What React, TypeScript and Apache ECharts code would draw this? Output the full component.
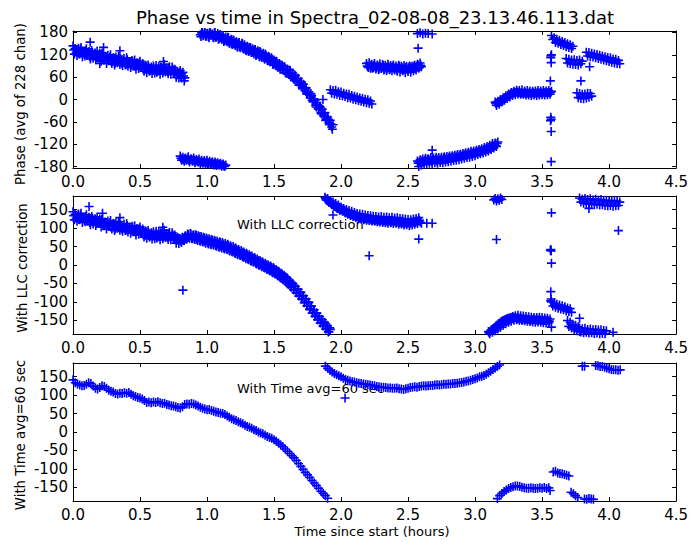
import React, { useEffect, useRef } from "react";
import * as echarts from "echarts";

const TITLE = "Phase vs time in Spectra_02-08-08_23.13.46.113.dat";
const Y_NAMES = ["Phase (avg of 228 chan)", "With LLC correction", "With Time avg=60 sec"];
const X_NAME = "Time since start (hours)";
const NOTE_LLC = "With LLC correction";
const NOTE_AVG = "With Time avg=60 sec";

const xTicks = [0, 0.5, 1, 1.5, 2, 2.5, 3, 3.5, 4, 4.5];
const yTicksP1 = [-180, -120, -60, 0, 60, 120, 180];
const yTicksP23 = [-150, -100, -50, 0, 50, 100, 150];

const STEP = 0.01; // hours between raw samples
const AVG_STEP = 1 / 60; // hours between 60-sec averages

// ---------------- Panel 1 : raw phase ----------------
const p1AStart = 0.0;
const p1A = [144,122,135,118,138,122,140,115,128,117,136,119,129,109,131,111,122,107,130,112,
  124,103,125,106,116,97,119,105,120,97,112,93,114,99,117,94,104,91,111,93,
  112,89,102,86,105,90,106,81,98,83,103,86,97,76,92,72,93,76,84,70,
  90,71,91,75,89,68,86,71,94,74,85,69,88,68,87,71,81,59,75,58,
  78,58,73,50];
const p1A2Start = 0.005;
const p1A2 = [133,137,127,132,123,135,126,129,121,131,
  122,127,115,123,126,117,125,113,118,120,
  112,122,112,107,115,111,104,114,105,109,
  111,98,105,108,102,109,97,105,100,94,
  107,96,100,94,102,96,89,98,91,98,
  86,91,91,80,90,83,87,78,87,78,
  79,84,73,83,77,87,79,76,85,83,
  75,85,76,78,81,70,76,66,70,72,
  64,71,63,58];
const p1BStart = 0.8;
const p1B = [-152,-163,-155,-166,-157,-162,-154,-168,-159,-165,-157,-170,-161,-167,-160,-172,-163,-171,-164,-173,
  -163,-174,-166,-172,-167,-176,-168,-177,-170,-176,-171,-179,-173,-180,-176];
const p1B2Start = 0.805;
const p1B2 = [-158,-160,-161,-159,-163,-160,-164,-162,-161,-165,-163,-166,-164,-168,-166,-167,-169,-167,-170,-168,
  -171,-169,-172,-170,-173,-171,-174,-172,-175,-174,-176,-175,-177,-178];
const p1CStart = 0.95;
const p1C = [174,179,171,178,170,177,169,179,172,176,
  166,180,168,177,164,174,161,172,158,168,
  155,166,151,162,148,159,145,155,142,153,
  139,151,137,147,132,143,129,140,126,136,
  122,134,120,131,115,127,113,124,108,119,
  105,116,101,112,95,106,92,102,86,97,
  82,92,78,88,71,82,67,78,61,71,
  54,64,48,57,40,48,33,41,24,31,
  14,21,4,11,-6,1,-16,-8,-25,-18,
  -36,-26,-44,-35,-53,-47,-63,-56,-74,-68];
const p1C2Start = 0.955;
const p1C2 = [169,180,173,180,170,178,166,179,174,167,
  179,167,172,162,174,166,171,156,165,158,
  167,152,157,149,160,149,154,141,153,141,
  146,150,135,139,131,141,131,140,126,131,
  134,118,128,121,129,114,122,112,122,111,
  104,113,103,109,95,101,103,89,92,81,
  92,82,88,72,79,70,79,61,65,58,
  65,50,55,39,46,46,29,31,32,15,
  21,11,16,-2,-3,-2,-20,-14,-26,-21,
  -39,-36,-38,-56,-53,-53,-68,-66,-80];
const p1DStart = 1.92;
const p1D = [26,17,24,15,25,14,21,11,20,10,17,8,15,5,14,4,11,1,9,-1,7,-3,4,-5,3,-7,1,-9,-1,-10,-4,-12];
const p1EStart = 2.19;
const p1E = [97,88,99,84,95,86,97,82,93,80,96,83,94,79,92,78,95,80,91,77,
  93,79,90,76,92,74,89,77,91,72,88,75,90,73,89,77,92,79,95,84,98,88];
const p1E2Start = 2.195;
const p1E2 = [90,86,93,88,84,91,87,85,90,83,88,85,91,82,87,84,89,81,86,88,
  83,87,80,85,89,82,86,79,84,87,81,85,88,82,86,90,84,89,93,87,92];
const p1GStart = 2.57;
const p1G = [-165,-180,-162,-176,-160,-174,-158,-173,-159,-171,-156,-172,-157,-170,-155,-171,-156,-169,-155,-170,
  -154,-168,-153,-167,-152,-166,-151,-164,-150,-163,-148,-162,-147,-160,-145,-158,-143,-156,-142,-155,
  -139,-153,-138,-151,-136,-148,-134,-146,-132,-144,-129,-141,-126,-138,-123,-134,-118,-130,-117,-126,-114];
const p1G2Start = 2.575;
const p1G2 = [-171,-167,-170,-164,-168,-163,-166,-161,-165,-162,-166,-160,-164,-161,-165,-159,-163,-160,-164,-158,
  -162,-157,-161,-156,-159,-155,-158,-153,-157,-152,-155,-151,-154,-149,-152,-147,-151,-146,-149,-144,
  -148,-143,-146,-141,-143,-138,-142,-136,-140,-134,-137,-132,-135,-129,-132,-125,-128,-122,-124,-118];
const p1HStart = 3.15;
const p1H = [-7,-16,-5,-13,0,-7,5,-2,10,3,15,7,19,11,22,13,25,15,24,14,
  26,14,23,12,24,12,23,11,22,12,23,11,24,12,23,13,24,12,23,13,24,14,22];
const p1H2Start = 3.155;
const p1H2 = [-11,-9,-8,-5,-4,0,1,5,6,10,12,15,16,18,19,19,20,18,19,17,
  18,17,18,16,17,18,17,17,18,16,17,18,17,18,18,17,18,19,18,19,18,19];
const p1IStart = 3.57;
const p1I = [172,161,166,153,162,151,159,148,156,145,153,142,150,140,147,137,143];
const p1JStart = 3.68;
const p1J = [110,98,108,96,106,95,107,94,105,93,106,96,103];
const p1KStart = 3.76;
const p1K = [18,5,16,3,14,2,15,4,17,6,16,9];
const p1LStart = 3.83;
const p1L = [127,117,126,115,124,114,122,112,121,110,119,108,117,106,115,104,113,102,112,100,109,98,108,97,105,96];
const p1Extra: [number, number][] = [
  [0.128, 154], [0.228, 140], [0.35, 131], [0.675, 102], [0.2, 97], [1.865, 0],
  [2.57, 177], [2.59, 179], [2.61, 176], [2.63, 178], [2.65, 177], [2.68, 176], [2.575, 138], [2.68, -136],
  [3.565, 117], [3.565, 112], [3.57, 120], [3.568, 99], [3.562, 50], [3.565, -48], [3.568, -53],
  [3.563, -57], [3.568, -86], [3.568, -167], [3.79, 50], [3.855, 88],
];

// ---------------- Panel 2 : with LLC correction ----------------
const p2AStart = 0.0;
const p2A = [144,122,135,118,138,122,140,115,128,117,
  136,119,129,109,131,111,122,107,130,112,
  124,103,125,106,116,97,119,105,120,97,
  112,93,114,99,117,94,104,91,111,93,
  112,89,102,86,105,90,106,81,98,83,
  103,86,97,76,92,72,93,76,84,70,
  90,71,91,75,89,68,86,71,94,74,
  85,69,88,68,87,71,81,59,75,58,
  70,61,73,66,79,70,83,72,84,71,
  82,69,80,66,77,64,75,62,72,59,
  70,57,68,55,66,54,64,51,61,48,
  60,46,57,43,54,42,52,38,48,35,
  46,31,41,28,38,26,35,21,31,17,
  28,14,24,10,19,8,16,3,12,-1,
  9,-5,4,-8,1,-12,-3,-16,-7,-21,
  -10,-24,-15,-30,-20,-35,-25,-40,-31,-46,
  -37,-53,-44,-60,-51,-67,-58,-75,-66,-83,
  -74,-92,-83,-100,-92,-110,-101,-119,-111,-129,
  -121,-138,-130,-147,-139,-156,-148,-164,-157,-172,
  -165,-180,-174];
const p2A2Start = 0.005;
const p2A2 = [133,137,127,132,123,135,126,129,121,131,
  122,127,115,123,126,117,125,113,118,120,
  112,122,112,107,115,111,104,114,105,109,
  111,98,105,108,102,109,97,105,100,94,
  107,96,100,94,102,96,89,98,91,98,
  86,91,91,80,90,83,87,78,87,78,
  79,84,73,83,77,87,79,76,85,83,
  75,85,76,78,81,70,76,66,70,72,
  64,75,66,78,70,83,74,85,72,80,
  71,82,69,79,66,77,64,75,62,73,
  60,71,57,69,56,67,53,65,51,63,
  49,61,46,58,44,56,40,52,37,50,
  34,46,30,42,27,39,23,35,20,32,
  16,28,12,24,8,20,4,16,0,12,
  -3,9,-7,5,-11,1,-15,-3,-19,-7,
  -23,-12,-28,-17,-34,-22,-39,-28,-45,-34,
  -52,-42,-59,-49,-67,-57,-75,-65,-84,-74,
  -92,-83,-102,-92,-111,-101,-120,-111,-130,-121,
  -139,-130,-148,-139,-157,-147,-165,-155,-173,-163,
  -181,-170];
const p2BStart = 1.88;
const p2B = [183,176,180,169,174,163,170,158,166,154,162,148,157,146,153,141,150,137,147,134,
  145,131,142,129,139,126,138,124,137,122,135,121,134,120,133,119,132,118,131,117,
  130,116,131,115,129,114,130,113,128,114,129,112,127,113,128,110,126,111,125,108,
  124,109,123,106,122,108,124,110,126,112,128,116];
const p2B2Start = 1.885;
const p2B2 = [179,175,173,170,166,164,160,159,155,153,152,149,149,145,145,141,141,139,138,136,
  135,133,132,130,131,128,129,126,128,125,126,124,125,122,124,121,123,120,122,119,
  121,120,121,118,120,117,120,118,119,116,119,117,118,115,117,114,116,113,116,112,
  115,113,114,112,116,114,117,115,119,118,121];
const p2CStart = 3.14;
const p2C = [176,180,173,179,175,181,177];
const p2DStart = 3.1;
const p2D = [-180,-186,-176,-182,-171,-178,-166,-173,-161,-168,-155,-163,-151,-159,-146,-155,-143,-152,-139,-149,
  -137,-148,-136,-149,-137,-150,-138,-151,-139,-152,-140,-153,-141,-154,-142,-155,-142,-154,-141,-155,
  -142,-156,-143,-157,-144,-156,-146];
const p2D2Start = 3.105;
const p2D2 = [-183,-179,-176,-172,-169,-165,-162,-158,-157,-153,-151,-149,-147,-146,-144,-144,-142,-143,-141,-144,
  -142,-145,-143,-146,-144,-147,-145,-147,-146,-148,-147,-149,-147,-148,-147,-149,-148,-149,-148,-150,
  -149,-150,-149,-151,-150,-152];
const p2EStart = 3.57;
const p2E = [-100,-111,-103,-114,-106,-117,-108,-119,-110,-121,-113,-124,-116,-126,-118,-128];
const p2FStart = 3.69;
const p2F = [-150,-166,-155,-170,-160,-174,-163,-178,-167,-180];
const p2GStart = 3.78;
const p2G = [-170,-181,-172,-183,-171,-182,-174,-184,-173,-183,-175,-185,-174,-184,-176,-186,-175,-185,-177,-186,-178];
const p2HStart = 3.78;
const p2H = [181,170,178,167,180,166,177,164,179,165,176,163,178,164,175,162,177,163,174,161,
  175,160,173,161,172,159,174,160,172,161,170];
const p2Extra: [number, number][] = [
  [0.12, 158], [0.22, 140], [0.35, 128], [0.67, 102], [0.82, -68], [1.94, 135], [2.21, 25],
  [2.58, 70], [2.6, 113], [2.64, 113], [2.68, 113], [3.16, 69],
  [3.57, 141], [3.565, 42], [3.568, 38], [3.562, 40], [3.57, 5], [3.565, -72], [3.568, -92],
  [3.565, -97], [3.57, -168], [3.78, -144], [4.03, -182], [3.85, 153], [4.07, 93],
];

// ---------------- Panel 3 : 60-second averages ----------------
const p3AStartMin = 0;
const p3A = [141,133,130,127,125,126,129,133,131,124,118,116,120,125,123,118,113,110,108,104,
  103,105,104,106,105,107,102,98,96,93,92,89,85,80,81,79,81,80,82,79,
  77,78,74,73,71,70,68,66,65,68,74,76,75,77,76,73,70,67,64,62,
  60,61,58,56,54,53,51,50,47,43,40,36,33,31,28,25,22,18,15,13,
  10,6,4,0,-3,-5,-9,-12,-15,-17,-21,-25,-30,-35,-40,-46,-52,-58,-64,-70,
  -77,-85,-93,-101,-109,-116,-123,-131,-138,-145,-152,-160,-166,-172,-179];
const p3BStartMin = 113;
const p3B = [178,172,167,162,158,155,152,149,145,142,140,138,136,135,133,132,131,130,129,128,
  127,126,125,123,122,121,121,120,119,119,118,118,119,117,116,115,117,118,120,121,
  122,121,123,124,125,124,125,126,126,127,128,127,128,129,129,130,130,131,131,132,
  133,134,135,137,138,140,142,144,146,149,151,153,156,160,164,169,173,177,181];
const p3DStartMin = 190;
const p3D = [-180,-172,-166,-161,-157,-153,-150,-148,-146,-146,-147,-149,-151,-152,-152,-151,-152,-153,-152,-151,
  -152,-150,-153,-151];
const p3EStartMin = 215;
const p3E = [-108,-106,-111,-112,-113,-115,-117,-119];
const p3FStartMin = 223;
const p3F = [-163,-167,-172,-177];
const p3GStartMin = 229;
const p3G = [-181,-182,-180,-181,-182];
const p3Extra: [number, number][] = [
  [2.03, 92], [3.56, -158],
  [3.8, 178], [3.817, 178], [3.9, 180], [3.917, 179], [3.933, 177], [3.95, 177], [3.967, 175],
  [3.983, 173], [4.0, 171], [4.017, 169], [4.033, 168], [4.05, 168], [4.067, 167], [4.083, 168],
];

function seg(start: number, step: number, vals: number[]): [number, number][] {
  return vals.map((v, i) => [start + i * step, v]);
}
function segMin(startMin: number, vals: number[]): [number, number][] {
  return vals.map((v, i) => [(startMin + i) * AVG_STEP, v]);
}

const panel1 = [
  ...seg(p1AStart, STEP, p1A), ...seg(p1A2Start, STEP, p1A2),
  ...seg(p1BStart, STEP, p1B), ...seg(p1B2Start, STEP, p1B2),
  ...seg(p1CStart, STEP, p1C), ...seg(p1C2Start, STEP, p1C2),
  ...seg(p1DStart, STEP, p1D),
  ...seg(p1EStart, STEP, p1E), ...seg(p1E2Start, STEP, p1E2),
  ...seg(p1GStart, STEP, p1G), ...seg(p1G2Start, STEP, p1G2),
  ...seg(p1HStart, STEP, p1H), ...seg(p1H2Start, STEP, p1H2),
  ...seg(p1IStart, STEP, p1I), ...seg(p1JStart, STEP, p1J),
  ...seg(p1KStart, STEP, p1K), ...seg(p1LStart, STEP, p1L), ...p1Extra,
];
const panel2 = [
  ...seg(p2AStart, STEP, p2A), ...seg(p2A2Start, STEP, p2A2),
  ...seg(p2BStart, STEP, p2B), ...seg(p2B2Start, STEP, p2B2),
  ...seg(p2CStart, STEP, p2C),
  ...seg(p2DStart, STEP, p2D), ...seg(p2D2Start, STEP, p2D2),
  ...seg(p2EStart, STEP, p2E), ...seg(p2FStart, STEP, p2F),
  ...seg(p2GStart, STEP, p2G), ...seg(p2HStart, STEP, p2H), ...p2Extra,
];
const panel3 = [
  ...segMin(p3AStartMin, p3A), ...segMin(p3BStartMin, p3B), ...segMin(p3DStartMin, p3D),
  ...segMin(p3EStartMin, p3E), ...segMin(p3FStartMin, p3F), ...segMin(p3GStartMin, p3G), ...p3Extra,
];

const FONT = "DejaVu Sans";
const PLUS = "path://M3.7,0h1.6v3.7h3.7v1.6h-3.7v3.7h-1.6v-3.7h-3.7v-1.6h3.7z";
const BLUE = "#0000ff";

const grids = [
  { left: 73, top: 31, width: 605, height: 137 },
  { left: 73, top: 196, width: 605, height: 138 },
  { left: 73, top: 363, width: 605, height: 138 },
];
const yLimits = [184, 186.5, 186.5];

export default function App() {
  const ref = useRef<HTMLDivElement>(null);
  useEffect(() => {
    if (!ref.current) return;
    const chart = echarts.init(ref.current, undefined, { renderer: "svg" });
    const line = { show: true, onZero: false, lineStyle: { color: "#000", width: 1 } };
    const xAxis: any[] = [];
    const yAxis: any[] = [];
    grids.forEach((_, gi) => {
      const base = {
        type: "value", gridIndex: gi, min: xTicks[0], max: xTicks[xTicks.length - 1], interval: 0.5,
        axisLine: line, splitLine: { show: false },
        axisTick: { show: true, inside: true, length: 4, lineStyle: { color: "#000" } },
      };
      xAxis.push({
        ...base, position: "bottom",
        axisLabel: {
          show: true, margin: 6, fontSize: 15, fontFamily: FONT, color: "#000",
          showMinLabel: true, showMaxLabel: true,
          formatter: (v: number) => v.toFixed(1),
        },
      });
      xAxis.push({ ...base, position: "top", axisLabel: { show: false } });
      const ticks = gi === 0 ? yTicksP1 : yTicksP23;
      const ybase = {
        type: "value", gridIndex: gi, min: -yLimits[gi], max: yLimits[gi],
        axisLine: line, splitLine: { show: false },
        axisTick: { show: true, inside: true, length: 4, lineStyle: { color: "#000" }, customValues: ticks },
      };
      yAxis.push({
        ...ybase, position: "left",
        axisLabel: {
          show: true, margin: 5, fontSize: 15, fontFamily: FONT, color: "#000",
          customValues: ticks, formatter: (v: number) => String(v),
        },
      });
      yAxis.push({ ...ybase, position: "right", axisLabel: { show: false } });
    });
    const mk = (gi: number, data: [number, number][]) => ({
      type: "scatter", xAxisIndex: gi * 2, yAxisIndex: gi * 2, data,
      symbol: PLUS, symbolSize: 9, itemStyle: { color: BLUE, opacity: 1 }, silent: true, clip: true,
    });
    const txt = (text: string, x: number, y: number, size: number, opts: any = {}) => ({
      type: "text", x, y, rotation: opts.rotation || 0,
      style: {
        text, fill: "#000", fontSize: size, fontFamily: FONT,
        align: opts.align || "left", verticalAlign: "middle",
      },
    });
    chart.setOption({
      animation: false,
      backgroundColor: "#fff",
      grid: grids.map((g) => ({ ...g, containLabel: false })),
      xAxis, yAxis,
      series: [mk(0, panel1), mk(1, panel2), mk(2, panel3)],
      graphic: [
        txt(TITLE, 375, 17, 18, { align: "center" }),
        txt(Y_NAMES[0], 20, 104, 13.3, { align: "center", rotation: Math.PI / 2 }),
        txt(Y_NAMES[1], 22, 268, 13.3, { align: "center", rotation: Math.PI / 2 }),
        txt(Y_NAMES[2], 20, 435, 13.3, { align: "center", rotation: Math.PI / 2 }),
        txt(X_NAME, 372, 531, 13, { align: "center" }),
        txt(NOTE_LLC, 237, 224, 13),
        txt(NOTE_AVG, 237, 388, 13),
      ],
    });
    return () => chart.dispose();
  }, []);
  return (
    <div
      ref={ref}
      style={{ position: "absolute", left: 0, top: 0, width: 691, height: 546, background: "#fff" }}
    />
  );
}
